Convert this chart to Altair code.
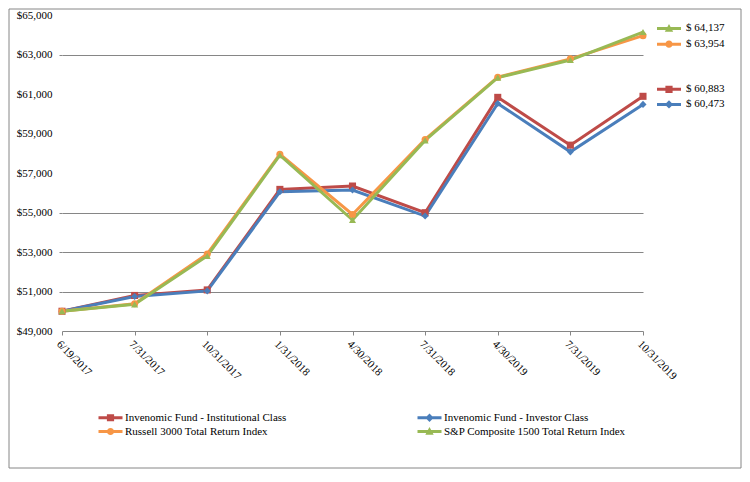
import altair as alt
import pandas as pd

# ---------------- data ----------------
DATES = ["6/19/2017", "7/31/2017", "10/31/2017", "1/31/2018", "4/30/2018",
         "7/31/2018", "4/30/2019", "7/31/2019", "10/31/2019"]
SERIES = ["Invenomic Fund - Institutional Class",
          "Invenomic Fund - Investor Class",
          "Russell 3000 Total Return Index",
          "S&P Composite 1500 Total Return Index"]
INSTITUTIONAL = [50000, 50800, 51080, 56170, 56340, 54990, 60830, 58410, 60883]
INVESTOR = [50000, 50750, 51030, 56050, 56140, 54820, 60520, 58070, 60473]
RUSSELL = [50000, 50380, 52900, 57950, 54900, 58700, 61850, 62780, 63954]
SP1500 = [50000, 50350, 52800, 57900, 54620, 58650, 61830, 62720, 64137]
Y_TICKS = list(range(49000, 65001, 2000))
GRID_LINES = [51000, 53000, 55000, 63000]

# ---------------- styles ----------------
COLORS = ["#BE4B48", "#4A7EBB", "#F79646", "#98B954"]
SHAPES = ["square", "diamond", "circle", "triangle-up"]
# legend keys: a line with the marker in the middle (unit = sqrt(size)/2 px)
KEY_PATHS = [
    "M-3,-0.375H3V0.375H-3Z M-0.9,-0.9H0.9V0.9H-0.9Z",
    "M-3,-0.375H3V0.375H-3Z M0,-1.05L1.05,0L0,1.05L-1.05,0Z",
    "M-3,-0.375H3V0.375H-3Z M-0.9,0A0.9,0.9 0 1,1 0.9,0A0.9,0.9 0 1,1 -0.9,0Z",
    "M-3,-0.375H3V0.375H-3Z M0,-1.1L1.05,0.8L-1.05,0.8Z",
]
LABEL_NUDGE = [-7, 0, 8.5, -3.6]
FONT = "'Liberation Serif', 'Times New Roman', serif"
GRAY = "#868686"
W, H = 581, 316

rows = []
for name, vals in zip(SERIES, [INSTITUTIONAL, INVESTOR, RUSSELL, SP1500]):
    for d, v in zip(DATES, vals):
        rows.append({"date": d, "series": name, "value": v})
df = pd.DataFrame(rows)

grid_test = "indexof([" + ",".join(str(g) for g in GRID_LINES) + "], datum.value) >= 0"

x_enc = alt.X(
    "date:O", sort=DATES, scale=alt.Scale(padding=0),
    axis=alt.Axis(title=None, labelAngle=45, labelAlign="left", labelBaseline="top",
                  labelFont=FONT, labelFontSize=11, labelColor="#000",
                  tickSize=4, tickColor=GRAY, domainColor=GRAY, labelPadding=3,
                  grid=False),
)
y_enc = alt.Y(
    "value:Q", scale=alt.Scale(domain=[49000, 65000], nice=False, zero=False),
    axis=alt.Axis(title=None, values=Y_TICKS, format="$,.0f", labelFont=FONT,
                  labelFontSize=11, labelColor="#000", domain=False,
                  grid=True, gridColor=GRAY, gridWidth=1,
                  gridOpacity={"condition": {"test": grid_test, "value": 1}, "value": 0},
                  ticks=True, tickSize=3, tickColor=GRAY,
                  tickOpacity={"condition": {"test": grid_test, "value": 1}, "value": 0},
                  labelPadding=7),
)
color_scale = alt.Scale(domain=SERIES, range=COLORS)

base = alt.Chart(df)

lines = base.mark_line(strokeWidth=3).encode(
    x=x_enc, y=y_enc,
    color=alt.Color("series:N", scale=color_scale, legend=None),
    order=alt.Order("series:N"),
)
points = base.mark_point(filled=True, size=50, opacity=1).encode(
    x=x_enc, y=y_enc,
    color=alt.Color("series:N", scale=color_scale, legend=None),
    shape=alt.Shape("series:N", scale=alt.Scale(domain=SERIES, range=SHAPES), legend=None),
)

legend_cfg = dict(
    orient="none", legendX=43, legendY=397, columns=2, direction="horizontal",
    columnPadding=130, rowPadding=2, symbolSize=64, symbolOpacity=1,
    symbolStrokeWidth=0, labelFont=FONT, labelFontSize=11, labelColor="#000",
    labelOffset=9, labelLimit=400, title=None, padding=0,
)
legend_layer = base.mark_point(filled=True, size=64, opacity=0).encode(
    x=x_enc, y=y_enc,
    color=alt.Color("series:N", scale=color_scale, legend=alt.Legend(**legend_cfg)),
    shape=alt.Shape("series:N", scale=alt.Scale(domain=SERIES, range=KEY_PATHS),
                    legend=alt.Legend(**legend_cfg)),
)

end_layers = []
for i, name in enumerate(SERIES):
    last = base.transform_filter(
        (alt.datum.series == name) & (alt.datum.date == DATES[-1])
    ).transform_calculate(label="'$ ' + format(datum.value, ',')")
    end_layers.append(
        last.mark_point(shape=KEY_PATHS[i], filled=True, color=COLORS[i], size=64,
                        opacity=1, strokeWidth=0).encode(
            x=x_enc, y=y_enc, xOffset=alt.value(26), yOffset=alt.value(LABEL_NUDGE[i]))
    )
    end_layers.append(
        last.mark_text(align="left", baseline="middle", dx=43, dy=LABEL_NUDGE[i],
                       font=FONT, fontSize=11, color="#000").encode(
            x=x_enc, y=y_enc, text="label:N")
    )

border = alt.Chart(pd.DataFrame({"k": [0]})).mark_rect(
    filled=False, color=GRAY, strokeWidth=1
).encode(x=alt.value(-53), x2=alt.value(W + 98), y=alt.value(-6), y2=alt.value(H + 137))

chart = alt.layer(border, lines, points, legend_layer, *end_layers).resolve_scale(
    color="independent", shape="independent"
).properties(
    width=W, height=H,
    autosize=alt.AutoSizeParams(type="none"),
    padding={"left": 54, "top": 7, "right": 99, "bottom": 138},
).configure_view(stroke=None)

chart.save("out.html", embed_options={"renderer": "svg", "actions": False})
